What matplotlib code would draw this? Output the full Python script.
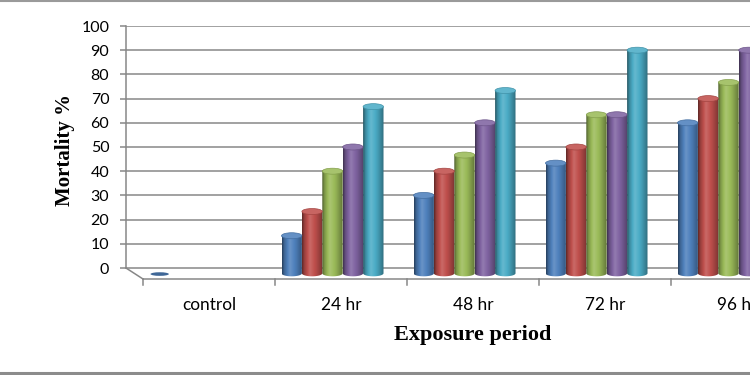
import numpy as np
import matplotlib
matplotlib.use('Agg')
import matplotlib.pyplot as plt
from matplotlib.patches import Ellipse, Polygon
from matplotlib.lines import Line2D
from matplotlib.colors import to_rgb

# ---------------- data ----------------
categories = ['control', '24 hr', '48 hr', '72 hr', '96 hr']
s1 = [0, 13.33, 30, 43.33, 60]
s2 = [np.nan, 23.33, 40, 50, 70]
s3 = [np.nan, 40, 46.67, 63.33, 76.67]
s4 = [np.nan, 50, 60, 63.33, 90]
s5 = [np.nan, 66.67, 73.33, 90, 100]
series = [s1, s2, s3, s4, s5]
yticks = list(range(0, 101, 10))
colors = ['#4F81BD', '#C0504D', '#9BBB59', '#8064A2', '#4BACC6']

# ---------------- layout / style ----------------
W, H = 750, 375
px_per_unit_y = 2.42
px_per_cat = 132.0
y0_px = 268.0          # pixel row of value 0 on back wall
ymin, ymax = -8, 100
ax_left_px = 126.0
xmin = -0.5
xmax = xmin + (W - ax_left_px) / px_per_cat

depth_dx = 17 / px_per_cat          # depth offset (x, data units)
depth_dy = 11 / px_per_unit_y       # depth offset (y, data units)
floor = -2.2                        # floor at mid depth
bar_w = 20.4 / px_per_cat
ell_h = 6 / px_per_unit_y
grid_col = '#878787'

fig = plt.figure(figsize=(W / 100, H / 100), dpi=100)
bottom_px = y0_px + (-ymin) * px_per_unit_y
top_px = y0_px - ymax * px_per_unit_y
ax = fig.add_axes([ax_left_px / W, (H - bottom_px) / H,
                   (W - ax_left_px) / W, (bottom_px - top_px) / H])
ax.set_xlim(xmin, xmax)
ax.set_ylim(ymin, ymax)
for s in ['top', 'right', 'bottom']:
    ax.spines[s].set_visible(False)
ax.spines['left'].set_bounds(0, 100)
ax.spines['left'].set_color(grid_col)
ax.spines['left'].set_linewidth(1.1)
ax.set_xticks([])
ax.set_yticks(yticks)
ax.set_yticklabels([str(t) for t in yticks], fontsize=11.5, family='Lato')
ax.tick_params(axis='y', length=4, width=1.1, color=grid_col, pad=8)

# back wall gridlines
ax.hlines(yticks, xmin, xmax, color=grid_col, lw=1.1, zorder=1)
# floor: diagonal + front axis
ax.plot([xmin, xmin + depth_dx], [0, -depth_dy], color=grid_col, lw=1.1, clip_on=False)
ax.plot([xmin + depth_dx, xmax], [-depth_dy, -depth_dy], color=grid_col, lw=1.1, clip_on=False)
for k in range(len(categories)):
    xt = xmin + depth_dx + k
    ax.plot([xt, xt], [-depth_dy, -depth_dy - 2.6], color=grid_col, lw=1.1, clip_on=False)
    ax.text(k + depth_dx, -(305 - y0_px) / px_per_unit_y, categories[k],
            ha='center', va='center', fontsize=12.4, family='Lato', clip_on=False)


def shade(c, f):
    c = np.array(c)
    if f < 1:
        return c * f
    return c + (1 - c) * (f - 1)


prof_pos = [0.0, 0.1, 0.38, 0.7, 0.92, 1.0]
prof_f = [0.5, 0.78, 1.15, 0.92, 0.72, 0.62]
N = 40
xs = np.linspace(0, 1, N)
fs = np.interp(xs, prof_pos, prof_f)

nser = len(series)
for j, vals in enumerate(series):
    base = to_rgb(colors[j])
    grad = np.array([[shade(base, f) for f in fs]])
    topc = shade(base, 1.12)
    for k, v in enumerate(vals):
        if np.isnan(v):
            continue
        c = k + depth_dx / 2 + (j - (nser - 1) / 2) * bar_w
        if v <= 0:
            ax.add_patch(Ellipse((c, floor - 0.3), bar_w * 0.9, ell_h * 0.6,
                                 color=shade(base, 0.8), zorder=3, lw=0))
            continue
        t = v
        theta = np.linspace(np.pi, 2 * np.pi, 30)
        pts = [(c - bar_w / 2, t)]
        pts += [(c + bar_w / 2 * np.cos(a), floor + ell_h / 2 * np.sin(a)) for a in theta]
        pts += [(c + bar_w / 2, t)]
        clip = Polygon(pts, closed=True, transform=ax.transData, facecolor='none', edgecolor='none')
        ax.add_patch(clip)
        im = ax.imshow(grad, extent=[c - bar_w / 2, c + bar_w / 2, floor - ell_h, t],
                       aspect='auto', interpolation='bilinear', zorder=3)
        im.set_clip_path(clip)
        ax.add_patch(Ellipse((c, t), bar_w, ell_h, facecolor=topc,
                             edgecolor=shade(base, 0.85), lw=0.5, zorder=4))

ax.set_xlim(xmin, xmax)
ax.set_ylim(ymin, ymax)

# axis titles
fig.text(65 / W, 1 - 150 / H, 'Mortality %', rotation=90, ha='center', va='center',
         fontsize=15, fontweight='bold', family='Liberation Serif')
fig.text(473 / W, 1 - 335 / H, 'Exposure period', ha='center', va='center',
         fontsize=16, fontweight='bold', family='Liberation Serif')

# frame lines
fig.add_artist(Line2D([0, 1], [1 - 1 / H, 1 - 1 / H], color='#9a9a9a', lw=1.5,
                      transform=fig.transFigure))
fig.add_artist(Line2D([0, 1], [1 - 372.5 / H, 1 - 372.5 / H], color='#8c8c8c', lw=2.2,
                      transform=fig.transFigure))

fig.savefig('out.png', dpi=100)
